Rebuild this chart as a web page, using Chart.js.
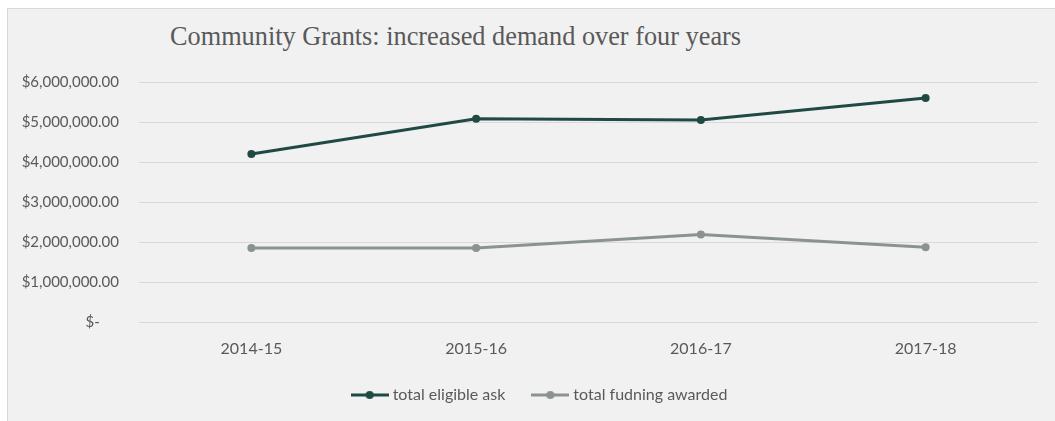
<!DOCTYPE html>
<html>
<head>
<meta charset="utf-8">
<script src="https://cdn.jsdelivr.net/npm/chart.js@4.4.1/dist/chart.umd.min.js"></script>
<style>
  html, body { margin: 0; padding: 0; background: #ffffff; width: 1055px; height: 421px; overflow: hidden; }
  #frame { position: absolute; left: 7px; top: 8px; width: 1060px; height: 420px; background: #f1f1f1; border-left: 1px solid #d9d9d9; border-top: 1px solid #d9d9d9; }
  #title { position: absolute; left: 170px; top: 24px; line-height: 1; font-family: "Liberation Serif", "DejaVu Serif", serif; font-size: 26.3px; color: #595959; white-space: nowrap; }
  #wrap { position: absolute; left: 0; top: 0; width: 1055px; height: 421px; }
</style>
</head>
<body>
<div id="frame"></div>
<div id="title">Community Grants: increased demand over four years</div>
<div id="wrap"><canvas id="c"></canvas></div>
<script>
const categories = ["2014-15", "2015-16", "2016-17", "2017-18"];
const totalEligibleAsk = [4200000, 5080000, 5050000, 5600000];
const totalFundingAwarded = [1850000, 1850000, 2190000, 1870000];
const yTickValues = [0, 1000000, 2000000, 3000000, 4000000, 5000000, 6000000];
const seriesNames = ["total eligible ask", "total fudning awarded"];

const darkColor = "#1f4a44";
const grayColor = "#8b9391";

function legendIcon(color) {
  const c = document.createElement("canvas");
  c.width = 38; c.height = 10;
  const g = c.getContext("2d");
  g.strokeStyle = color; g.lineWidth = 3;
  g.beginPath(); g.moveTo(0, 5); g.lineTo(38, 5); g.stroke();
  g.fillStyle = color;
  g.beginPath(); g.arc(19, 5, 4, 0, Math.PI * 2); g.fill();
  return c;
}

function fmt(v) {
  if (v === 0) return "$-\u2007\u2007\u2009";
  return "$" + v.toLocaleString("en-US", { minimumFractionDigits: 2, maximumFractionDigits: 2 });
}

const legendShift = {
  id: "legendShift",
  beforeDraw(chart) {
    const lg = chart.legend;
    if (lg && !lg._shifted) { lg.left += 17; lg.right += 17; lg._shifted = true; }
  }
};

new Chart(document.getElementById("c"), {
  type: "line",
  plugins: [legendShift],
  data: {
    labels: categories,
    datasets: [
      { label: seriesNames[0], data: totalEligibleAsk, borderColor: darkColor, backgroundColor: darkColor,
        borderWidth: 3, pointRadius: 4, pointStyle: "circle", pointBackgroundColor: darkColor, pointBorderWidth: 0, tension: 0 },
      { label: seriesNames[1], data: totalFundingAwarded, borderColor: grayColor, backgroundColor: grayColor,
        borderWidth: 3, pointRadius: 4, pointStyle: "circle", pointBackgroundColor: grayColor, pointBorderWidth: 0, tension: 0 }
    ]
  },
  options: {
    responsive: true,
    maintainAspectRatio: false,
    animation: false,
    layout: { padding: { left: 10, right: 17, top: 82, bottom: 8 } },
    plugins: {
      title: { display: false },
      tooltip: { enabled: false },
      legend: {
        position: "bottom",
        labels: {
          usePointStyle: true,
          pointStyleWidth: 30,
          boxHeight: 10,
          padding: 10,
          color: "#595959",
          font: { family: "Lato, 'Open Sans', sans-serif", size: 16 },
          generateLabels(chart) {
            return chart.data.datasets.map((ds, i) => ({
              text: i === 0 ? ds.label + "\u2003\u2002" : ds.label,
              fillStyle: ds.borderColor,
              strokeStyle: ds.borderColor,
              lineWidth: 0,
              pointStyle: legendIcon(ds.borderColor),
              fontColor: "#595959",
              hidden: false,
              datasetIndex: i
            }));
          }
        }
      }
    },
    scales: {
      x: {
        offset: true,
        grid: { display: false, drawTicks: false },
        border: { display: false },
        ticks: { color: "#595959", font: { family: "Lato, 'Open Sans', sans-serif", size: 16 }, padding: 17, maxRotation: 0 },
        afterFit(scale) { scale.height = 55; }
      },
      y: {
        min: 0,
        max: 6000000,
        afterBuildTicks(scale) { scale.ticks = yTickValues.map(v => ({ value: v })); },
        grid: { color: "#d9d9d9", lineWidth: 1, drawTicks: false },
        border: { display: false },
        ticks: { color: "#595959", font: { family: "Lato, 'Open Sans', sans-serif", size: 15 }, padding: 20, callback: (v) => fmt(v) },
        afterFit(scale) { scale.width = 129; }
      }
    }
  }
});
</script>
</body>
</html>
